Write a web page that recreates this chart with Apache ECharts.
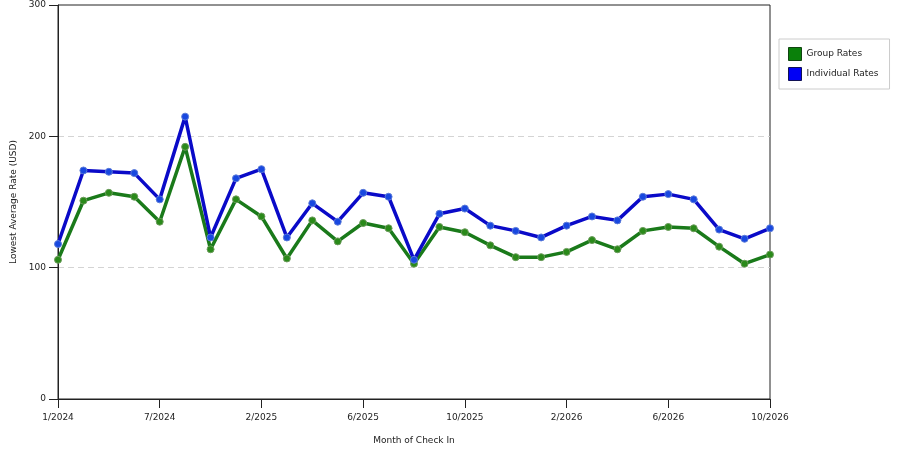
<!DOCTYPE html>
<html>
<head>
    <meta charset="utf-8">
    <title>rates</title>
    <script src="https://cdn.jsdelivr.net/npm/echarts@6/dist/echarts.min.js"></script>
    <style>
        body { margin: 0; background: #fff; }
    </style>
</head>
<body>
    <div id="main" style="width: 900px; height: 450px;"></div>
    <script type="text/javascript">
    // months of check in (only every 4th one is labelled on the axis)
    var months = ['1/2024', '3/2024', '4/2024', '6/2024', '7/2024', '8/2024', '10/2024', '12/2024',
        '2/2025', '3/2025', '4/2025', '5/2025', '6/2025', '7/2025', '8/2025', '9/2025',
        '10/2025', '11/2025', '12/2025', '1/2026', '2/2026', '3/2026', '4/2026', '5/2026',
        '6/2026', '7/2026', '8/2026', '9/2026', '10/2026'];
    var groupRates = [106, 151, 157, 154, 135, 192, 114, 152, 139, 107, 136, 120, 134, 130, 103, 131,
        127, 117, 108, 108, 112, 121, 114, 128, 131, 130, 116, 103, 110];
    var individualRates = [118, 174, 173, 172, 152, 215, 123, 168, 175, 123, 149, 135, 157, 154, 106, 141,
        145, 132, 128, 123, 132, 139, 136, 154, 156, 152, 129, 122, 130];
    var yTicks = [0, 100, 200, 300];

    var chart = echarts.init(document.getElementById('main'));
    var font = 'Verdana, "DejaVu Sans", sans-serif';
    var option = {
        animation: false,
        textStyle: { fontFamily: font },
        grid: {
            left: 58, right: 130, top: 5, bottom: 50,
            show: true, borderColor: '#222', borderWidth: 1
        },
        legend: {
            orient: 'vertical',
            left: 779, top: 39,
            padding: [8, 11, 8, 9],
            borderColor: '#ccc', borderWidth: 1,
            itemWidth: 13, itemHeight: 13, itemGap: 6,
            icon: 'rect',
            textStyle: { fontSize: 9, color: '#222', fontFamily: font },
            data: [
                { name: 'Group Rates', itemStyle: { color: '#0a800a', borderColor: '#114411', borderWidth: 1 } },
                { name: 'Individual Rates', itemStyle: { color: '#0000f5', borderColor: '#111155', borderWidth: 1 } }
            ]
        },
        xAxis: {
            type: 'category',
            data: months,
            boundaryGap: false,
            name: 'Month of Check In',
            nameLocation: 'center',
            nameGap: 37,
            nameTextStyle: { fontSize: 9, color: '#222' },
            axisLine: { lineStyle: { color: '#222' } },
            axisTick: { interval: 3, length: 9, lineStyle: { color: '#222' } },
            axisLabel: { interval: 3, fontSize: 9, color: '#222', margin: 14 },
            splitLine: { show: false }
        },
        yAxis: {
            type: 'value',
            min: yTicks[0],
            max: yTicks[yTicks.length - 1],
            interval: 100,
            name: 'Lowest Average Rate (USD)',
            nameLocation: 'center',
            nameGap: 38,
            nameTextStyle: { fontSize: 9, color: '#222' },
            axisLine: { show: true, lineStyle: { color: '#222' } },
            axisTick: { show: true, length: 9, lineStyle: { color: '#222' } },
            axisLabel: { fontSize: 9, color: '#222', margin: 12 },
            // no dashed line on the frame edges (0 and 300)
            splitLine: { lineStyle: { color: ['rgba(0,0,0,0)', '#d4d4d4', '#d4d4d4', 'rgba(0,0,0,0)'], type: [6, 4] } }
        },
        series: [
            {
                name: 'Group Rates',
                type: 'line',
                data: groupRates,
                symbol: 'circle',
                symbolSize: 7,
                lineStyle: { color: '#1a7a1a', width: 3.5 },
                itemStyle: { color: '#2a8a1a', borderColor: '#6a9a5a', borderWidth: 1 },
                z: 2
            },
            {
                name: 'Individual Rates',
                type: 'line',
                data: individualRates,
                symbol: 'circle',
                symbolSize: 7,
                lineStyle: { color: '#0a0ac8', width: 3.5 },
                itemStyle: { color: '#1848e0', borderColor: '#5a7ad8', borderWidth: 1 },
                z: 3
            }
        ]
    };
    chart.setOption(option);
    </script>
</body>
</html>
